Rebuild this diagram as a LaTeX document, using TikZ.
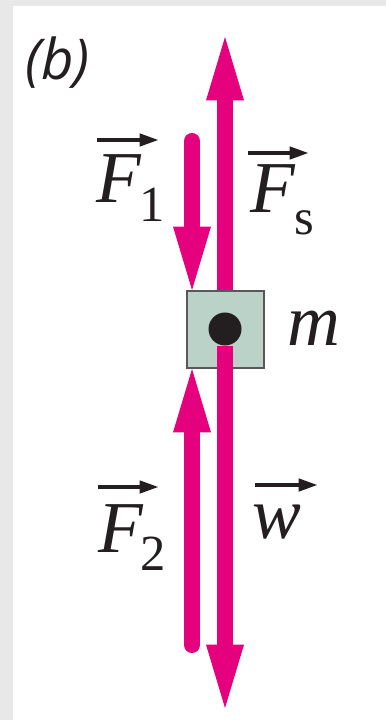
\documentclass[tikz,border=0pt]{standalone}
\usepackage{fontspec}
\setmainfont{Liberation Serif}
\newfontfamily\panelfont{Open Sans}
\usetikzlibrary{arrows.meta}
\definecolor{forcepink}{RGB}{229,0,125}
\definecolor{boxgreen}{RGB}{186,210,200}
\definecolor{inkgray}{RGB}{35,31,32}
\definecolor{framegray}{RGB}{232,232,232}
\newcommand{\lowsub}[2]{\raisebox{-#1}{\fontsize{36}{40}\selectfont\upshape #2}}
\begin{document}
\begin{tikzpicture}[x=0.025cm, y=-0.025cm,
        force/.style={forcepink, line width=11.4pt, -{Triangle[length=45pt, width=27pt, line width=0pt]}},
        vecarrow/.style={inkgray, line width=2.8pt, -{Triangle[length=13pt, width=9.5pt, line width=0pt]}},
        lbl/.style={inkgray, anchor=base west, inner sep=0pt, font=\fontsize{52}{60}\selectfont\itshape},
        massbox/.style={draw=inkgray!75, fill=boxgreen, line width=1.4pt, minimum size=1.925cm, inner sep=0pt}]
    \useasboundingbox (0,0) rectangle (386,720);
    \fill[framegray] (0,0) rectangle (386,720);
    \fill[white] (13,6) rectangle (386,720);
    \coordinate (fstip) at (225,37);
    \coordinate (wtip) at (225,708);
    \coordinate (f1tail) at (192,141);
    \coordinate (f2tail) at (192,645);
    \node[massbox] (box) at (225.5,329.5) {};
    \node[circle, fill=inkgray, minimum size=0.825cm, inner sep=0pt] (dot) at (225,329) {};
    \draw[force] (box.north -| fstip) -- (fstip);
    \draw[force] (dot.south) -- (wtip);
    \draw[force, line cap=round] (f1tail) -- (box.north -| f1tail);
    \draw[force, line cap=round] (f2tail) -- (box.south -| f2tail);
    \node[inkgray, anchor=base west, inner sep=0pt, font=\panelfont\itshape\fontsize{40}{48}\selectfont] (panel) at (25,80) {(b)};
    \node[lbl] (f1lab) at (96,203) {F\kern-1pt\lowsub{13.5pt}{1}};
    \node[lbl] (fslab) at (250,213) {F\kern-0.5pt\lowsub{15.6pt}{s}};
    \node[lbl] (f2lab) at (98,552) {F\kern-2pt\lowsub{12.8pt}{2}};
    \node[lbl] (wlab) at (252,538) {w};
    \node[lbl] (mlab) at (287,345) {m};
    \draw[vecarrow] ([shift={(1,-63)}]f1lab.base west) -- ++(61,0);
    \draw[vecarrow] ([shift={(-2,-60)}]fslab.base west) -- ++(60,0);
    \draw[vecarrow] ([shift={(0,-65)}]f2lab.base west) -- ++(60,0);
    \draw[vecarrow] ([shift={(3,-53)}]wlab.base west) -- ++(62,0);
\end{tikzpicture}
\end{document}
